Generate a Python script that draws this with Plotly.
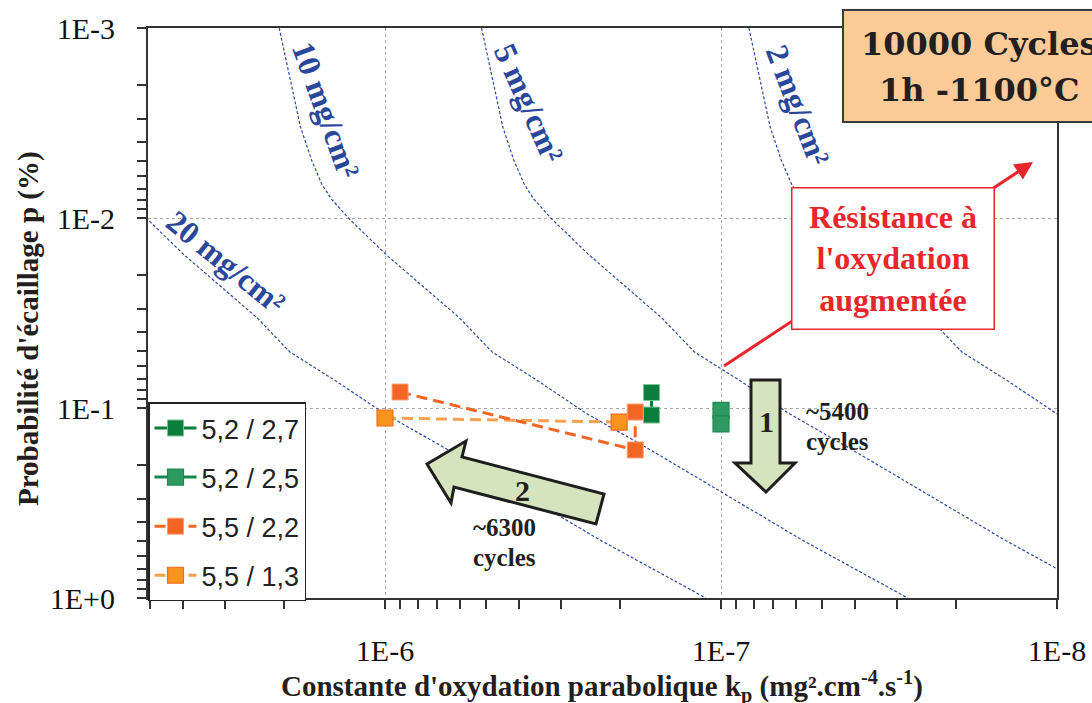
import plotly.graph_objects as go

# ---------------- data ----------------
series_names = ["5,2 / 2,7", "5,2 / 2,5", "5,5 / 2,2", "5,5 / 1,3"]
kp_52_27 = [1.61e-7, 1.61e-7]
p_52_27 = [0.0829, 0.1089]
kp_52_25 = [1.00e-7, 1.00e-7]
p_52_25 = [0.103, 0.1213]
kp_55_22 = [9.02e-7, 1.80e-7, 1.80e-7]
p_55_22 = [0.0824, 0.1663, 0.105]
kp_55_13 = [1.00e-6, 2.01e-7]
p_55_13 = [0.1129, 0.1186]

iso_labels = ["20 mg/cm²", "10 mg/cm²", "5 mg/cm²", "2 mg/cm²"]
iso_p = [0.001, 1.88e-3, 3.32e-3, 4.95e-3, 6.70e-3, 7.94e-3, 0.01, 1.545e-2,
         3.36e-2, 5.07e-2, 7.21e-2, 0.1062, 0.1663, 0.4955, 1.0]
iso_kp_20 = [8.26e-6, 7.66e-6, 7.14e-6, 6.62e-6, 6.15e-6, 5.78e-6, 5.14e-6, 3.99e-6,
             2.40e-6, 1.92e-6, 1.40e-6, 1.01e-6, 6.49e-7, 2.29e-7, 1.11e-7]
iso_kp_10 = [2.065e-6, 1.915e-6, 1.785e-6, 1.655e-6, 1.538e-6, 1.445e-6, 1.285e-6, 9.98e-7,
             6.00e-7, 4.80e-7, 3.50e-7, 2.53e-7, 1.62e-7, 5.73e-8, 2.78e-8]
iso_kp_5 = [5.16e-7, 4.79e-7, 4.46e-7, 4.14e-7, 3.84e-7, 3.61e-7, 3.21e-7, 2.49e-7,
            1.50e-7, 1.20e-7, 8.75e-8, 6.31e-8, 4.06e-8, 1.43e-8, 6.94e-9]
iso_kp_2 = [8.26e-8, 7.66e-8, 7.14e-8, 6.62e-8, 6.15e-8, 5.78e-8, 5.14e-8, 3.99e-8,
            2.40e-8, 1.92e-8, 1.40e-8, 1.01e-8, 6.49e-9, 2.29e-9, 1.11e-9]

x_tick_vals = [1e-6, 1e-7, 1e-8]
x_tick_text = ["1E-6", "1E-7", "1E-8"]
y_tick_vals = [1e-3, 1e-2, 1e-1, 1.0]
y_tick_text = ["1E-3", "1E-2", "1E-1", "1E+0"]
x_minor = [2e-6, 3e-6, 4e-6, 5e-6] + [k * 1e-7 for k in range(2, 10)] + [k * 1e-8 for k in range(2, 10)]
y_minor = [k * 10.0 ** d for d in (-3, -2, -1) for k in range(2, 10)]

# ---------------- layout geometry (pixels) ----------------
W, H = 1092, 703
L, R, T, B = 148, 1057, 28, 598


def px(x, y):
    return (x - L) / (R - L), (B - y) / (B - T)


fig = go.Figure()

iso_color = "#2d4aa3"
for kp in (iso_kp_20, iso_kp_10, iso_kp_5, iso_kp_2):
    fig.add_trace(go.Scatter(x=kp, y=iso_p, mode="lines", showlegend=False,
                             hoverinfo="skip",
                             line=dict(color=iso_color, width=1.2, dash="3px,2px")))

fig.add_trace(go.Scatter(x=kp_55_13, y=p_55_13, mode="lines+markers", name=series_names[3],
                         legendrank=4, legendgroup="d",
                         line=dict(color="#f9a050", width=3, dash="11px,6px"),
                         marker=dict(symbol="square", size=16, color="#f7941d",
                                     line=dict(color="#f26a22", width=1.2))))
fig.add_trace(go.Scatter(x=kp_55_22, y=p_55_22, mode="lines+markers", name=series_names[2],
                         legendrank=3, legendgroup="c",
                         line=dict(color="#f26522", width=3, dash="11px,6px"),
                         marker=dict(symbol="square", size=16, color="#f26522",
                                     line=dict(color="#f7a073", width=1))))
fig.add_trace(go.Scatter(x=kp_52_25, y=p_52_25, mode="lines+markers", name=series_names[1],
                         legendrank=2, legendgroup="b",
                         line=dict(color="#16874a", width=3),
                         marker=dict(symbol="square", size=16, color="#2e9a62",
                                     line=dict(color="#1d8a50", width=1.2))))
fig.add_trace(go.Scatter(x=kp_52_27, y=p_52_27, mode="lines+markers", name=series_names[0],
                         legendrank=1, legendgroup="a",
                         line=dict(color="#0b7d3c", width=3),
                         marker=dict(symbol="square", size=16, color="#0b7d3c",
                                     line=dict(color="#7cc495", width=1))))

axis_common = dict(
    type="log", showline=True, linecolor="#333333", linewidth=2, mirror=True,
    ticks="outside", ticklen=9, tickwidth=1.5, tickcolor="#333333",
    showgrid=True, gridcolor="#a8a8a8", griddash="dot", gridwidth=1,
    zeroline=False, automargin=False,
    tickfont=dict(family="Liberation Serif", size=30, color="#111111"),
    ticklabelstandoff=16,
)

fig.update_xaxes(range=[-5.2946, -8], tickmode="array", tickvals=x_tick_vals,
                 ticktext=x_tick_text,
                 minor=dict(tickmode="array", tickvals=x_minor, ticks="outside",
                            ticklen=9, tickcolor="#333333", showgrid=False),
                 **axis_common)
fig.update_yaxes(range=[0, -3], tickmode="array", tickvals=y_tick_vals,
                 ticktext=y_tick_text,
                 minor=dict(tickmode="array", tickvals=y_minor, ticks="outside",
                            ticklen=9, tickcolor="#333333", showgrid=False),
                 **axis_common)

shapes = []


def path_shape(points, fill, line_color, width):
    pts = [px(x, y) for x, y in points]
    d = "M " + " L ".join(f"{a:.5f},{b:.5f}" for a, b in pts) + " Z"
    return dict(type="path", xref="paper", yref="paper", path=d,
                fillcolor=fill, line=dict(color=line_color, width=width), layer="above")


# big arrows
shapes.append(path_shape([(751, 380), (780, 380), (780, 463), (795, 463), (766, 492),
                          (735, 463), (751, 463)], "#d6e4bd", "#1e1e1e", 3))
shapes.append(path_shape([(427, 464), (466, 441), (462, 457), (604, 494), (596, 524),
                          (454, 487), (451, 503)], "#d6e4bd", "#1e1e1e", 3))
# top right info box
x0, y1 = px(843, 10)
x1, y0 = px(1125, 122)
shapes.append(dict(type="rect", xref="paper", yref="paper", x0=x0, x1=x1, y0=y0, y1=y1,
                   fillcolor="#fccb98", line=dict(color="#3a3a3a", width=2), layer="above"))
fig.update_layout(shapes=shapes)

ann = []


def text_at(x, y, text, size, color="#231f20", family="Liberation Serif", angle=0, bold=True):
    ax_, ay_ = px(x, y)
    t = f"<b>{text}</b>" if bold else text
    ann.append(dict(x=ax_, y=ay_, xref="paper", yref="paper", text=t, showarrow=False,
                    textangle=angle, xanchor="center", yanchor="middle",
                    font=dict(family=family, size=size, color=color)))


# axis titles
text_at(602, 686, "Constante d'oxydation parabolique k<sub>p</sub> (mg².cm<sup>-4</sup>.s<sup>-1</sup>)", 29)
text_at(28, 329, "Probabilité d'écaillage p (%)", 29, angle=-90)

# iso-curve labels
text_at(226, 262, iso_labels[0], 32, color="#2a479c", angle=39)
text_at(326, 110, iso_labels[1], 32, color="#2a479c", angle=70)
text_at(529, 103, iso_labels[2], 32, color="#2a479c", angle=66)
text_at(798, 105, iso_labels[3], 32, color="#2a479c", angle=69)

# arrow labels
text_at(766, 422, "1", 30)
text_at(522, 490, "2", 30)
text_at(837, 411, "~5400", 25)
text_at(837, 441, "cycles", 25)
text_at(504, 527, "~6300", 25)
text_at(504, 557, "cycles", 25)

# red arrow (behind the red box)
hx, hy = px(1033, 162)
ann.append(dict(x=hx, y=hy, xref="paper", yref="paper", text=" ", showarrow=True,
                ax=721 - 1033, ay=368 - 162, axref="pixel", ayref="pixel",
                arrowhead=2, arrowsize=1.2, arrowwidth=3, arrowcolor="#e8262b",
                standoff=0, startstandoff=0, font=dict(size=10)))
# red box
bx, by = px(893, 258.5)
ann.append(dict(x=bx, y=by, xref="paper", yref="paper",
                text="<b>Résistance à<br>l'oxydation<br>augmentée</b>", showarrow=False,
                xanchor="center", yanchor="middle", width=201, height=140,
                bgcolor="white", bordercolor="#e8262b", borderwidth=1.5, borderpad=0,
                font=dict(family="Liberation Serif", size=32, color="#e8262b")))

# top-right box text
text_at(979, 44, "10000 Cycles", 32, family="DejaVu Serif")
text_at(979, 90, "1h -1100°C", 32, family="DejaVu Serif")

fig.update_layout(
    annotations=ann,
    width=W, height=H,
    margin=dict(l=L, r=W - R, t=T, b=H - B, pad=0),
    paper_bgcolor="white", plot_bgcolor="white",
    showlegend=True,
    legend=dict(x=0, y=-0.006, xanchor="left", yanchor="bottom",
                bgcolor="white", bordercolor="#222222", borderwidth=1.5,
                font=dict(family="Liberation Sans", size=27, color="#222222"),
                tracegroupgap=11, traceorder="grouped", itemwidth=42),
)

fig.write_html("out.html", config={"displayModeBar": False},
               post_script="document.body.style.margin='0';document.body.style.padding='0';")
